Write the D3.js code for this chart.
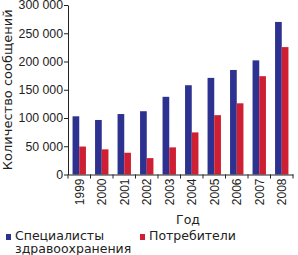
<!DOCTYPE html>
<html>
<head>
<meta charset="utf-8">
<script src="https://cdn.jsdelivr.net/npm/d3@7"></script>
<style>
  body { margin: 0; background: #fff; }
  svg { display: block; font-family: "DejaVu Sans", sans-serif; }
</style>
</head>
<body>
<div id="chart"></div>
<script>
// Data
const years = ["1999", "2000", "2001", "2002", "2003", "2004", "2005", "2006", "2007", "2008"];
const specialists = [103000, 96500, 107000, 112000, 137500, 158000, 171000, 185000, 202000, 270000];
const consumers = [49500, 44500, 38500, 29000, 48000, 74500, 105000, 126000, 174000, 225500];
const seriesNames = [["Специалисты", "здравоохранения"], ["Потребители"]];
const seriesColors = ["#2d3190", "#cf1f32"];
const yTicks = [0, 50000, 100000, 150000, 200000, 250000, 300000];

const width = 298, height = 255;
const plotLeft = 68, plotRight = 293, plotTop = 5, plotBottom = 174.5;

const svg = d3.select("#chart")
    .append("svg")
    .attr("width", width)
    .attr("height", height);

// Scales
const x = d3.scaleBand()
    .domain(years)
    .range([plotLeft, plotRight]);

const xs = d3.scaleBand()
    .domain([0, 1])
    .range([0, x.bandwidth()])
    .paddingOuter(0.68);

const y = d3.scaleLinear()
    .domain([0, 300000])
    .range([plotBottom, plotTop]);

const fmt = v => d3.format(",")(v).replace(/,/g, " ");

// Bars
const values = [specialists, consumers];
values.forEach((vals, s) => {
    svg.append("g")
        .selectAll("rect")
        .data(years)
        .join("rect")
        .attr("x", d => x(d) + xs(s))
        .attr("y", (d, i) => y(vals[i]))
        .attr("width", xs.bandwidth())
        .attr("height", (d, i) => plotBottom - y(vals[i]))
        .attr("fill", seriesColors[s]);
});

// Y axis
const yAxis = svg.append("g")
    .attr("transform", `translate(${plotLeft},0)`)
    .call(d3.axisLeft(y).tickValues(yTicks).tickFormat(fmt).tickSize(4).tickPadding(1).tickSizeOuter(0));
yAxis.selectAll("text")
    .style("font-size", "12.3px")
    .attr("fill", "#222");
yAxis.selectAll("line, path").attr("stroke", "#222");

// X axis: labels rotated, ticks between categories
const xAxis = svg.append("g")
    .attr("transform", `translate(0,${plotBottom})`)
    .call(d3.axisBottom(x).tickSize(0).tickSizeOuter(0));
xAxis.select("path").attr("stroke", "#222");
xAxis.selectAll("text")
    .attr("transform", "rotate(-90)")
    .attr("text-anchor", "end")
    .attr("x", -4)
    .attr("y", 0)
    .attr("dy", "0.36em")
    .attr("fill", "#222")
    .style("font-size", "12px");

const bounds = years.map(d => x(d)).concat([plotRight]);
xAxis.selectAll(".sep")
    .data(bounds)
    .join("line")
    .attr("class", "sep")
    .attr("x1", d => d)
    .attr("x2", d => d)
    .attr("y1", 0)
    .attr("y2", 4)
    .attr("stroke", "#222");

// Axis titles
svg.append("text")
    .attr("transform", `translate(12,${(plotTop + plotBottom) / 2}) rotate(-90)`)
    .attr("text-anchor", "middle")
    .attr("fill", "#222")
    .style("font-size", "13px")
    .text("Количество сообщений");

svg.append("text")
    .attr("x", 188)
    .attr("y", 224)
    .attr("text-anchor", "middle")
    .attr("fill", "#222")
    .style("font-size", "12.5px")
    .text("Год");

// Legend
const legend = svg.append("g");
const legendX = [6, 140];
seriesNames.forEach((lines, i) => {
    legend.append("rect")
        .attr("x", legendX[i])
        .attr("y", 234)
        .attr("width", 5)
        .attr("height", 6)
        .attr("fill", seriesColors[i]);
    lines.forEach((line, j) => {
        legend.append("text")
            .attr("x", legendX[i] + 9)
            .attr("y", 240 + j * 13)
            .attr("fill", "#222")
            .style("font-size", "12.5px")
            .text(line);
    });
});
</script>
</body>
</html>
